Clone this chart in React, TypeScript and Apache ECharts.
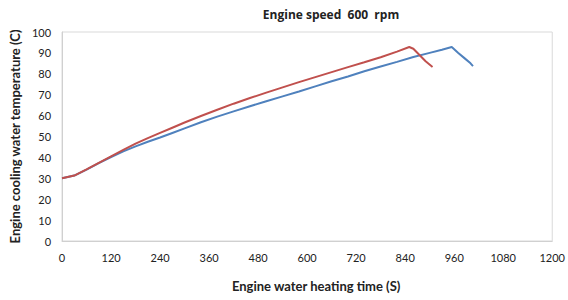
import React, { useEffect, useRef } from "react";
import * as echarts from "echarts";

const titleText = "Engine speed  600  rpm";
const xAxisName = "Engine water heating time (S)";
const yAxisName = "Engine cooling water temperature (C)";

// Series 1 (blue): [time s, temperature C]
const blueTime = [0, 30, 60, 90, 120, 150, 180, 210, 240, 270, 300, 340, 380, 420, 460, 500, 540, 580, 620, 660, 700, 740, 780, 820, 860, 900, 930, 954, 970, 985, 1000, 1006];
const blueTemp = [30, 31.3, 34.2, 37.3, 40.2, 42.9, 45.3, 47.5, 49.5, 51.7, 53.9, 56.8, 59.5, 62, 64.5, 66.9, 69.2, 71.5, 74, 76.4, 78.7, 81.2, 83.5, 85.7, 88, 90, 91.5, 92.8, 90, 87.5, 85, 83.7];

// Series 2 (red)
const redTime = [0, 30, 60, 90, 120, 150, 180, 210, 240, 270, 300, 340, 380, 420, 460, 500, 540, 580, 620, 660, 700, 740, 780, 820, 850, 860, 875, 890, 907];
const redTemp = [30, 31.3, 34.3, 37.4, 40.5, 43.6, 46.6, 49.2, 51.7, 54.2, 56.7, 59.8, 62.8, 65.7, 68.4, 71, 73.5, 76, 78.4, 80.8, 83.2, 85.5, 87.9, 90.6, 92.8, 92, 89, 86, 83.3];

const xMin = 0, xMax = 1200, xInterval = 120;
const yMin = 0, yMax = 100, yInterval = 10;

const zip = (a: number[], b: number[]) => a.map((v, i) => [v, b[i]]);

export default function App() {
  const ref = useRef<HTMLDivElement>(null);
  useEffect(() => {
    if (!ref.current) return;
    const chart = echarts.init(ref.current, null, { renderer: "svg" });
    const font = "Lato, 'Open Sans', sans-serif";
    const titleFont = "'Open Sans', Lato, sans-serif";
    chart.setOption({
      animation: false,
      backgroundColor: "#ffffff",
      textStyle: { fontFamily: font },
      title: {
        text: titleText,
        left: 326,
        top: 3,
        textAlign: "center",
        textStyle: { fontSize: 12, fontWeight: "bold", color: "#222", fontFamily: titleFont },
      },
      grid: {
        left: 60,
        right: 14,
        top: 32,
        bottom: 59,
        show: true,
        borderColor: "#d9d9d9",
        borderWidth: 1,
        backgroundColor: "transparent",
      },
      xAxis: {
        type: "value",
        min: xMin,
        max: xMax,
        interval: xInterval,
        name: xAxisName,
        nameLocation: "middle",
        nameGap: 38,
        nameTextStyle: { fontSize: 13, fontWeight: "bold", color: "#222", fontFamily: font, padding: [0, 0, 0, 18] },
        axisLine: { show: true, lineStyle: { color: "#d0d0d0" } },
        axisTick: { show: false },
        splitLine: { show: false },
        axisLabel: { fontSize: 11, color: "#222", margin: 11, fontFamily: font, formatter: (v: number) => String(v) },
      },
      yAxis: {
        type: "value",
        min: yMin,
        max: yMax,
        interval: yInterval,
        name: yAxisName,
        nameLocation: "middle",
        nameGap: 36,
        nameRotate: 90,
        nameTextStyle: { fontSize: 13, fontWeight: "bold", color: "#222", fontFamily: font },
        axisLine: { show: true, lineStyle: { color: "#d0d0d0" } },
        axisTick: { show: false },
        splitLine: { show: false },
        axisLabel: { fontSize: 11, color: "#222", margin: 11, fontFamily: font, formatter: (v: number) => String(v) },
      },
      series: [
        {
          type: "line",
          name: "blue",
          data: zip(blueTime, blueTemp),
          showSymbol: false,
          symbol: "none",
          lineStyle: { color: "#4f81bd", width: 2 },
          itemStyle: { color: "#4f81bd" },
        },
        {
          type: "line",
          name: "red",
          data: zip(redTime, redTemp),
          showSymbol: false,
          symbol: "none",
          lineStyle: { color: "#c0504d", width: 2 },
          itemStyle: { color: "#c0504d" },
        },
      ],
    });
    return () => chart.dispose();
  }, []);
  return (
    <div
      ref={ref}
      style={{ position: "absolute", left: 0, top: 0, width: 568, height: 300 }}
    />
  );
}
